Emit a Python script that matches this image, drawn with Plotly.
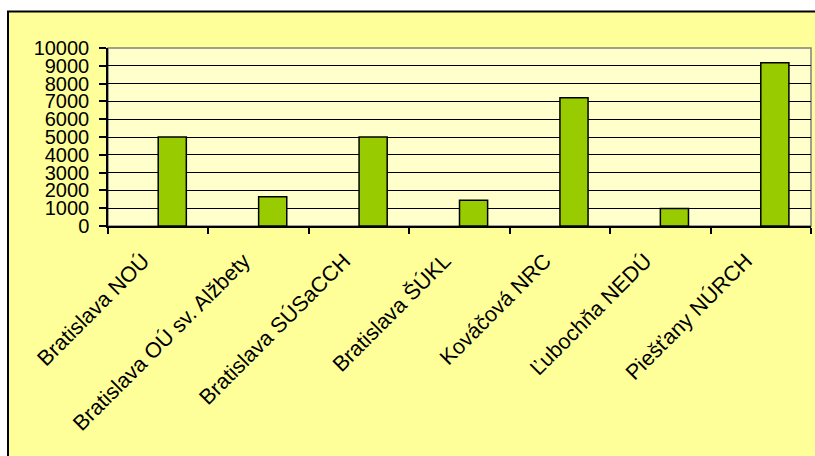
import plotly.graph_objects as go

categories = ["Bratislava NOÚ", "Bratislava OÚ sv. Alžbety", "Bratislava SÚSaCCH",
              "Bratislava ŠÚKL", "Kováčová NRC", "Ľubochňa NEDÚ", "Piešťany NÚRCH"]
values = [5000, 1650, 5000, 1450, 7200, 980, 9170]
y_ticks = list(range(0, 10001, 1000))

W, H = 815, 456
L, R, T, B = 108, 811, 47.5, 226

def px_x(p):
    return (p - L) / (R - L)

def px_y(p):
    return (B - p) / (B - T)

fig = go.Figure()
fig.add_trace(go.Bar(
    x=categories, y=values,
    width=0.28, offset=0,
    marker=dict(color="#99CC00", line=dict(color="black", width=1.5)),
))

fig.update_layout(
    width=W, height=H,
    margin=dict(l=L, r=W - R, t=T, b=H - B, pad=0),
    paper_bgcolor="white",
    plot_bgcolor="#FFFFCC",
    showlegend=False,
    font=dict(family="Liberation Sans, Arial, sans-serif", size=20, color="black"),
    shapes=[
        dict(type="rect", xref="paper", yref="paper", layer="below",
             x0=px_x(8), x1=px_x(830), y0=px_y(11), y1=px_y(470),
             fillcolor="#FFFF99", line=dict(color="black", width=2)),
        dict(type="rect", xref="paper", yref="paper", layer="below",
             x0=0, x1=1, y0=0, y1=1,
             fillcolor="#FFFFCC", line=dict(color="#808080", width=1.5)),
    ],
)

fig.update_yaxes(
    range=[0, 10000], tickvals=y_ticks, ticktext=[str(v) for v in y_ticks],
    showgrid=True, gridcolor="black", gridwidth=1,
    ticks="outside", ticklen=7, tickcolor="black", tickwidth=1.5,
    showline=True, linecolor="black", linewidth=1.5,
    zeroline=False, ticklabelstandoff=6,
    tickfont=dict(size=20),
)
fig.update_xaxes(
    type="category", range=[-0.5, 6.5],
    ticks="outside", tickson="boundaries", ticklen=6, tickcolor="black", tickwidth=1.5,
    showline=True, linecolor="black", linewidth=1.5,
    tickangle=-45, tickfont=dict(size=21.5),
    ticklabelstandoff=12, ticklabelshift=-15,
    showgrid=False,
)

fig.write_html("out.html",
               config={"displayModeBar": False},
               post_script="document.body.style.margin='0';document.body.style.overflow='hidden';")
